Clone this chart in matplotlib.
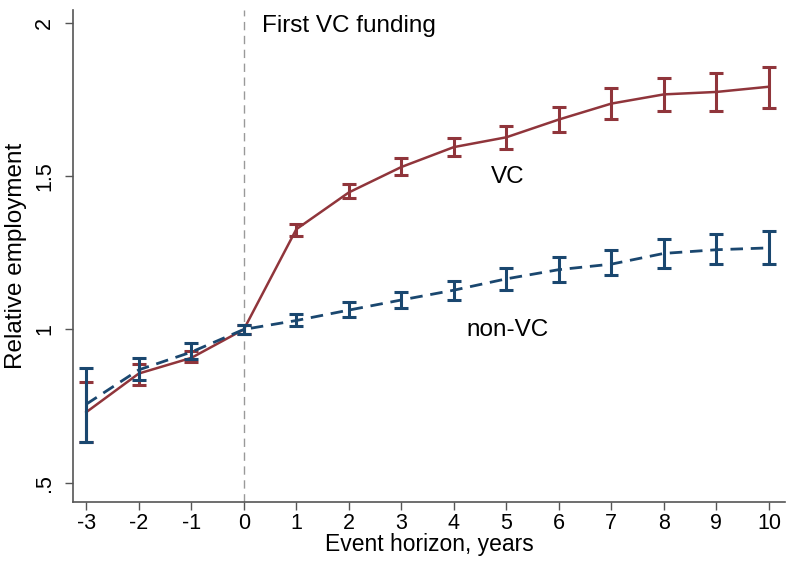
import matplotlib.pyplot as plt

plt.rcParams['font.family'] = ['Liberation Sans', 'DejaVu Sans']

# event horizon
years = [-3, -2, -1, 0, 1, 2, 3, 4, 5, 6, 7, 8, 9, 10]

# VC firms
vc_mean = [0.73, 0.856, 0.907, 1.0, 1.327, 1.447, 1.53, 1.595, 1.627, 1.685, 1.737, 1.767, 1.775, 1.792]
vc_lo = [0.634, 0.817, 0.892, 0.985, 1.305, 1.43, 1.505, 1.565, 1.59, 1.645, 1.686, 1.713, 1.713, 1.722]
vc_hi = [0.827, 0.888, 0.93, 1.015, 1.343, 1.475, 1.558, 1.625, 1.665, 1.727, 1.787, 1.822, 1.837, 1.856]

# non-VC firms
nvc_mean = [0.756, 0.868, 0.926, 1.0, 1.029, 1.063, 1.096, 1.128, 1.165, 1.195, 1.213, 1.248, 1.26, 1.266]
nvc_lo = [0.634, 0.836, 0.904, 0.985, 1.01, 1.042, 1.07, 1.096, 1.13, 1.155, 1.177, 1.202, 1.215, 1.215]
nvc_hi = [0.875, 0.907, 0.955, 1.015, 1.051, 1.09, 1.122, 1.157, 1.2, 1.235, 1.26, 1.295, 1.31, 1.32]

red = '#90353b'
blue = '#1a476f'

fig = plt.figure(figsize=(7.87, 5.63), dpi=100)
ax = fig.add_axes([0.093, 0.108, 0.904, 0.874])

ax.axvline(0, color='#999999', linestyle=(0, (6, 4)), linewidth=1, zorder=1)

ax.errorbar(years, vc_mean,
            yerr=[[m - l for m, l in zip(vc_mean, vc_lo)], [h - m for m, h in zip(vc_mean, vc_hi)]],
            color=red, linewidth=1.8, elinewidth=2.2, capsize=5, capthick=2.2, zorder=3)
ax.errorbar(years, nvc_mean,
            yerr=[[m - l for m, l in zip(nvc_mean, nvc_lo)], [h - m for m, h in zip(nvc_mean, nvc_hi)]],
            color=blue, linewidth=2, linestyle=(0, (4.5, 2.8)), elinewidth=2.2, capsize=5, capthick=2.2,
            zorder=4)

ax.text(0.35, 1.99, 'First VC funding', fontsize=17.5, va='center', ha='left')
ax.text(5.02, 1.497, 'VC', fontsize=17.5, va='center', ha='center')
ax.text(5.02, 0.997, 'non-VC', fontsize=17.5, va='center', ha='center')

ax.set_xlim(-3.25, 10.3)
ax.set_ylim(0.436, 2.042)
ax.set_xticks(years)
ax.set_xticklabels([str(y) for y in years])
ax.set_yticks([0.5, 1, 1.5, 2])
ax.set_yticklabels(['.5', '1', '1.5', '2'], rotation=90, va='center')

ax.set_xlabel('Event horizon, years', fontsize=16.5, labelpad=-1)
ax.set_ylabel('Relative employment', fontsize=17.5, labelpad=5)

for s in ['top', 'right']:
    ax.spines[s].set_visible(False)
for s in ['left', 'bottom']:
    ax.spines[s].set_color('#555555')
    ax.spines[s].set_linewidth(1.2)
ax.tick_params(axis='both', labelsize=15.5, length=6, width=1, color='#555555', direction='out')
ax.tick_params(axis='y', pad=7)
ax.tick_params(axis='x', pad=2)

fig.savefig('out.png', dpi=100)
